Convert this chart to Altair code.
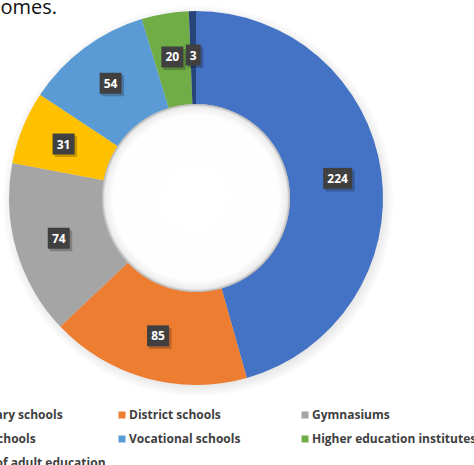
import altair as alt
import pandas as pd

categories = ["Elementary schools", "District schools", "Gymnasiums", "Special schools",
              "Vocational schools", "Higher education institutes", "Centres of adult education"]
values = [224, 85, 74, 31, 54, 20, 3]
colors = ["#4472C4", "#ED7D31", "#A5A5A5", "#FFC000", "#5B9BD5", "#70AD47", "#264478"]
title_text = "outcomes."

df = pd.DataFrame({"category": categories, "value": values, "idx": list(range(len(values)))})

W, H = 474, 465
CX, CY = 196, 198
R_OUT, R_IN, R_LAB = 187, 94, 143

xs = alt.Scale(domain=[-CX, W - CX], nice=False, zero=False)
ys = alt.Scale(domain=[-(H - CY), CY], nice=False, zero=False)

one = pd.DataFrame({"v": [1]})

shadow = alt.Chart(one).mark_arc(
    radius=R_OUT + 9, theta=0, theta2=6.2832,
    fill=alt.RadialGradient(gradient="radial", x1=0.5, y1=0.5, x2=0.5, y2=0.5, r1=0, r2=0.5,
                            stops=[alt.GradientStop(offset=0, color="rgba(0,0,0,0.18)"),
                                   alt.GradientStop(offset=0.92, color="rgba(0,0,0,0.12)"),
                                   alt.GradientStop(offset=1, color="rgba(0,0,0,0)")])
).encode(x=alt.value(CX + 2), y=alt.value(CY + 3))

donut = alt.Chart(df).mark_arc(innerRadius=R_IN, outerRadius=R_OUT).encode(
    theta=alt.Theta("value:Q", stack=True),
    order=alt.Order("idx:Q"),
    color=alt.Color("category:N", sort=categories,
                    scale=alt.Scale(domain=categories, range=colors),
                    legend=alt.Legend(orient="none", legendX=-67, legendY=409, columns=3,
                                      gridAlign="all", direction="horizontal",
                                      symbolType="square", symbolSize=49, symbolStrokeWidth=0,
                                      labelFont="Open Sans", labelFontWeight="bold",
                                      labelFontSize=12, labelColor="#404040", labelLimit=400,
                                      labelOffset=1, columnPadding=5, rowPadding=12,
                                      padding=0, title=None)),
    x=alt.value(CX), y=alt.value(CY),
)

hole = alt.Chart(one).mark_arc(
    radius=R_IN, theta=0, theta2=6.2832,
    fill=alt.RadialGradient(gradient="radial", x1=0.5, y1=0.5, x2=0.5, y2=0.5, r1=0, r2=0.5,
                            stops=[alt.GradientStop(offset=0, color="#ffffff"),
                                   alt.GradientStop(offset=0.88, color="#fefefe"),
                                   alt.GradientStop(offset=0.97, color="#ececec"),
                                   alt.GradientStop(offset=1, color="#b0b0b0")])
).encode(x=alt.value(CX), y=alt.value(CY))

lab = alt.Chart(df).transform_joinaggregate(
    total="sum(value)"
).transform_window(
    cum="sum(value)", sort=[alt.SortField("idx")], frame=[None, 0]
).transform_calculate(
    ang="(datum.cum - datum.value / 2) / datum.total * 2 * PI",
    lab="'' + datum.value",
).transform_calculate(
    lx=f"{R_LAB} * sin(datum.ang)",
    ly=f"{R_LAB} * cos(datum.ang)",
    hw="4 + 3.5 * length(datum.lab)",
).transform_calculate(
    x1="datum.lx - datum.hw", x2="datum.lx + datum.hw",
    y1="datum.ly - 10.5", y2="datum.ly + 10.5",
    sx1="datum.lx - datum.hw + 2", sx2="datum.lx + datum.hw + 2.5",
    sy1="datum.ly - 10.5 - 2.5", sy2="datum.ly + 10.5 - 2.5",
)

box_shadow = lab.mark_rect(color="#000000", opacity=0.22).encode(
    x=alt.X("sx1:Q", scale=xs, axis=None), x2="sx2:Q",
    y=alt.Y("sy1:Q", scale=ys, axis=None), y2="sy2:Q",
)
box = lab.mark_rect(color="#404040").encode(
    x=alt.X("x1:Q", scale=xs, axis=None), x2="x2:Q",
    y=alt.Y("y1:Q", scale=ys, axis=None), y2="y2:Q",
)
text = lab.mark_text(color="white", font="Open Sans", fontWeight="bold", fontSize=12,
                     align="center", baseline="middle", dy=0.5).encode(
    x=alt.X("lx:Q", scale=xs, axis=None),
    y=alt.Y("ly:Q", scale=ys, axis=None),
    text="lab:N",
)

title = alt.Chart(one).mark_text(font="Open Sans", fontSize=20, color="#111111",
                                 align="right", baseline="alphabetic").encode(
    x=alt.value(57), y=alt.value(14), text=alt.value(title_text)
)

chart = alt.layer(shadow, donut, hole, box_shadow, box, text, title).properties(
    width=W, height=H, autosize=alt.AutoSizeParams(type="none"), padding=0,
).configure_view(stroke=None).resolve_scale(x="shared", y="shared")

chart.save("out.html", embed_options={"renderer": "svg", "actions": False})
